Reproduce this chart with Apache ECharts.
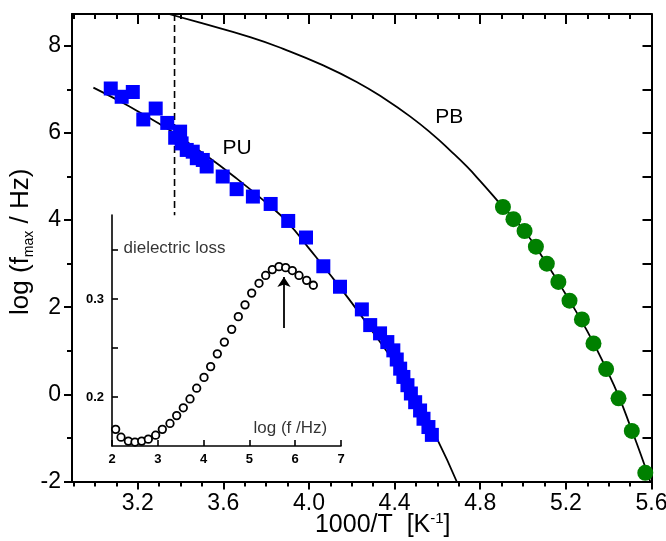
<!DOCTYPE html>
<html>
<head>
<meta charset="utf-8">
<script src="https://cdn.jsdelivr.net/npm/echarts@6/dist/echarts.min.js"></script>
<style>
html,body{margin:0;padding:0;background:#fff;}
#chart{width:666px;height:541px;}
</style>
</head>
<body>
<div id="chart"></div>
<script>
// ---------- data ----------
const puX = [3.074, 3.125, 3.177, 3.226, 3.284, 3.338, 3.375, 3.398, 3.405, 3.429, 3.457, 3.476, 3.504, 3.522, 3.597, 3.662, 3.738, 3.821, 3.903, 3.986, 4.067, 4.145, 4.247, 4.286, 4.332, 4.366, 4.394, 4.410, 4.426, 4.441, 4.460, 4.476, 4.496, 4.519, 4.535, 4.558, 4.574];
const puY = [7.02, 6.83, 6.94, 6.31, 6.56, 6.23, 5.89, 6.03, 5.76, 5.61, 5.57, 5.42, 5.38, 5.23, 5.00, 4.71, 4.54, 4.37, 3.98, 3.60, 2.94, 2.47, 1.95, 1.59, 1.40, 1.20, 1.01, 0.80, 0.59, 0.40, 0.21, 0.02, -0.18, -0.37, -0.56, -0.75, -0.93];

const pbX = [4.906, 4.955, 5.007, 5.060, 5.111, 5.165, 5.217, 5.275, 5.329, 5.388, 5.446, 5.508, 5.571];
const pbY = [4.30, 4.02, 3.75, 3.39, 3.00, 2.58, 2.15, 1.72, 1.17, 0.58, -0.09, -0.84, -1.80];

// fit curves
const puFitX = [2.993, 3.10, 3.20, 3.35, 3.50, 3.65, 3.80, 3.90, 4.00, 4.10, 4.20, 4.30, 4.40, 4.50, 4.60, 4.69];
const puFitY = [7.04, 6.77, 6.50, 6.06, 5.55, 5.00, 4.40, 3.95, 3.35, 2.74, 2.10, 1.42, 0.72, -0.12, -1.04, -2.0];
const pbFitX = [3.345, 3.491, 3.725, 3.880, 4.067, 4.223, 4.348, 4.472, 4.581, 4.659, 4.737, 4.799, 4.878, 5.000, 5.100, 5.200, 5.300, 5.400, 5.450, 5.500, 5.550, 5.594];
const pbFitY = [8.73, 8.53, 8.20, 7.93, 7.55, 7.17, 6.80, 6.38, 5.95, 5.60, 5.23, 4.90, 4.46, 3.79, 3.08, 2.29, 1.45, 0.47, -0.08, -0.72, -1.38, -2.0];

// dashed marker line
const dashX = [3.372, 3.372];
const dashY = [8.73, 4.11];

// inset: dielectric loss vs log f
const insetLogF = [2.080, 2.197, 2.357, 2.502, 2.648, 2.793, 2.953, 3.099, 3.266, 3.412, 3.557, 3.703, 3.849, 4.009, 4.154, 4.300, 4.453, 4.613, 4.758, 4.904, 5.050, 5.210, 5.355, 5.501, 5.646, 5.792, 5.937, 6.083, 6.250, 6.396];
const insetLoss = [0.167, 0.159, 0.155, 0.154, 0.155, 0.157, 0.161, 0.167, 0.173, 0.181, 0.189, 0.198, 0.209, 0.220, 0.231, 0.244, 0.256, 0.269, 0.282, 0.294, 0.306, 0.316, 0.324, 0.330, 0.333, 0.332, 0.329, 0.324, 0.319, 0.314];
const arrowLogF = 5.755;
const arrowLoss = [0.2704, 0.3224];

// axes / ticks
const xRange = [2.893, 5.6];
const yRange = [-2, 8.73];
const xMajor = [3.2, 3.6, 4.0, 4.4, 4.8, 5.2, 5.6];
const xTickLabels = ['3.2', '3.6', '4.0', '4.4', '4.8', '5.2', '5.6'];
const xMinor = [2.9, 3.0, 3.1, 3.3, 3.4, 3.5, 3.7, 3.8, 3.9, 4.1, 4.2, 4.3, 4.5, 4.6, 4.7, 4.9, 5.0, 5.1, 5.3, 5.4, 5.5];
const yMajor = [-2, 0, 2, 4, 6, 8];
const yTickLabels = ['-2', '0', '2', '4', '6', '8'];
const yMinor = [-1, 1, 3, 5, 7];
const yRight = [-2, -1, 0, 1, 2, 3, 4, 5, 6, 7, 8];

const insetXRange = [2, 7];
const insetYRange = [0.15, 0.3857];
const insetXTicks = [2, 3, 4, 5, 6, 7];
const insetXLabels = ['2', '3', '4', '5', '6', '7'];
const insetYTicks = [0.2, 0.25, 0.3, 0.35];
const insetYLabelVals = [0.2, 0.3];
const insetYLabels = ['0.2', '0.3'];

const puLabel = {text: 'PU', at: [3.664, 5.65]};
const pbLabel = {text: 'PB', at: [4.655, 6.37]};
const insetTitle = {text: 'dielectric loss', at: [2.25, 0.352]};
const insetXName = {text: 'log (f /Hz)', at: [5.09, 0.1685]};

// ---------- chart ----------
const FONT = '"Liberation Sans", Arial, Helvetica, sans-serif';
const zip = (a, b) => a.map((v, i) => [v, b[i]]);
const lookup = (vals, labels) => v => {
  for (let i = 0; i < vals.length; i++) if (Math.abs(vals[i] - v) < 1e-6) return labels[i];
  return '';
};

const chart = echarts.init(document.getElementById('chart'), null, {renderer: 'canvas'});

const axisLine = w => ({show: true, onZero: false, lineStyle: {color: '#000', width: w}});
const noLine = {show: false, onZero: false};

const option = {
  animation: false,
  backgroundColor: '#fff',
  grid: [
    {left: 72, right: 14.5, top: 14, bottom: 59.5, containLabel: false, outerBoundsMode: 'none'},
    {left: 112, right: 325, top: 215, bottom: 95, containLabel: false, outerBoundsMode: 'none'}
  ],
  xAxis: [
    { // 0 main bottom major
      type: 'value', gridIndex: 0, position: 'bottom', min: xRange[0], max: xRange[1],
      axisLine: axisLine(2),
      axisTick: {show: true, inside: false, length: 8, customValues: xMajor, lineStyle: {color: '#000', width: 2}},
      axisLabel: {show: true, customValues: xMajor, formatter: lookup(xMajor, xTickLabels), margin: 11,
        fontSize: 23, color: '#000', fontFamily: FONT},
      splitLine: {show: false},
      name: '{a|1000/T  [K}{s|-1}{a|]}', nameLocation: 'middle', nameGap: 30, nameMoveOverlap: false,
      nameTextStyle: {fontFamily: FONT, color: '#000', padding: [0, 0, 0, 42],
        rich: {a: {fontSize: 25, fontFamily: FONT, color: '#000', lineHeight: 28},
               s: {fontSize: 15, fontFamily: FONT, color: '#000', verticalAlign: 'top', lineHeight: 28}}}
    },
    { // 1 main bottom minor
      type: 'value', gridIndex: 0, position: 'bottom', min: xRange[0], max: xRange[1],
      axisLine: noLine,
      axisTick: {show: true, inside: false, length: 5, customValues: xMinor, lineStyle: {color: '#000', width: 2}},
      axisLabel: {show: false}, splitLine: {show: false}
    },
    { // 2 main top major
      type: 'value', gridIndex: 0, position: 'top', min: xRange[0], max: xRange[1],
      axisLine: axisLine(2),
      axisTick: {show: true, inside: true, length: 10, customValues: xMajor, lineStyle: {color: '#000', width: 2}},
      axisLabel: {show: false}, splitLine: {show: false}
    },
    { // 3 main top minor
      type: 'value', gridIndex: 0, position: 'top', min: xRange[0], max: xRange[1],
      axisLine: noLine,
      axisTick: {show: true, inside: true, length: 5, customValues: xMinor, lineStyle: {color: '#000', width: 2}},
      axisLabel: {show: false}, splitLine: {show: false}
    },
    { // 4 inset x
      type: 'value', gridIndex: 1, position: 'bottom', min: insetXRange[0], max: insetXRange[1],
      axisLine: axisLine(1.6),
      axisTick: {show: true, inside: true, length: 6, customValues: insetXTicks, lineStyle: {color: '#000', width: 1.6}},
      axisLabel: {show: true, customValues: insetXTicks, formatter: lookup(insetXTicks, insetXLabels), margin: 7,
        fontSize: 13, fontWeight: 'bold', color: '#000', fontFamily: FONT},
      splitLine: {show: false}
    }
  ],
  yAxis: [
    { // 0 main left major
      type: 'value', gridIndex: 0, position: 'left', min: yRange[0], max: yRange[1],
      axisLine: axisLine(2),
      axisTick: {show: true, inside: false, length: 8, customValues: yMajor, lineStyle: {color: '#000', width: 2}},
      axisLabel: {show: true, customValues: yMajor, formatter: lookup(yMajor, yTickLabels), margin: 11,
        fontSize: 23, color: '#000', fontFamily: FONT},
      splitLine: {show: false},
      name: '{a|log (f}{s|max}{a| / Hz)}', nameLocation: 'middle', nameGap: 36, nameRotate: 90, nameMoveOverlap: false,
      nameTextStyle: {fontFamily: FONT, color: '#000', padding: [0, 0, 0, 12],
        rich: {a: {fontSize: 26, fontFamily: FONT, color: '#000', lineHeight: 30},
               s: {fontSize: 14, fontFamily: FONT, color: '#000', verticalAlign: 'bottom', lineHeight: 30}}}
    },
    { // 1 main left minor
      type: 'value', gridIndex: 0, position: 'left', min: yRange[0], max: yRange[1],
      axisLine: noLine,
      axisTick: {show: true, inside: false, length: 5, customValues: yMinor, lineStyle: {color: '#000', width: 2}},
      axisLabel: {show: false}, splitLine: {show: false}
    },
    { // 2 main right
      type: 'value', gridIndex: 0, position: 'right', min: yRange[0], max: yRange[1],
      axisLine: axisLine(2),
      axisTick: {show: true, inside: true, length: 9, customValues: yRight, lineStyle: {color: '#000', width: 2}},
      axisLabel: {show: false}, splitLine: {show: false}
    },
    { // 3 inset y
      type: 'value', gridIndex: 1, position: 'left', min: insetYRange[0], max: insetYRange[1],
      axisLine: axisLine(1.6),
      axisTick: {show: true, inside: true, length: 6, customValues: insetYTicks, lineStyle: {color: '#000', width: 1.6}},
      axisLabel: {show: true, customValues: insetYLabelVals, formatter: lookup(insetYLabelVals, insetYLabels), margin: 8,
        fontSize: 13, fontWeight: 'bold', color: '#000', fontFamily: FONT},
      splitLine: {show: false}
    }
  ],
  series: [
    {
      name: 'PU fit', type: 'line', xAxisIndex: 0, yAxisIndex: 0, data: zip(puFitX, puFitY),
      smooth: 0.5, showSymbol: false, symbol: 'none', z: 2,
      lineStyle: {color: '#000', width: 1.8}
    },
    {
      name: 'PB fit', type: 'line', xAxisIndex: 0, yAxisIndex: 0, data: zip(pbFitX, pbFitY),
      smooth: 0.5, showSymbol: false, symbol: 'none', z: 2,
      lineStyle: {color: '#000', width: 1.8}
    },
    {
      name: 'marker', type: 'line', xAxisIndex: 0, yAxisIndex: 0, data: zip(dashX, dashY),
      showSymbol: false, symbol: 'none', z: 2,
      lineStyle: {color: '#000', width: 1.6, type: [7, 4]}
    },
    {
      name: 'PU', type: 'scatter', xAxisIndex: 0, yAxisIndex: 0, data: zip(puX, puY),
      symbol: 'rect', symbolSize: 14, z: 3,
      itemStyle: {color: '#0000FF', opacity: 1},
      markPoint: {
        symbol: 'circle', symbolSize: 0, silent: true,
        label: {show: true, position: 'inside', fontSize: 21, color: '#000', fontFamily: FONT, formatter: p => p.name},
        data: [{name: puLabel.text, coord: puLabel.at}]
      }
    },
    {
      name: 'PB', type: 'scatter', xAxisIndex: 0, yAxisIndex: 0, data: zip(pbX, pbY),
      symbol: 'circle', symbolSize: 16, z: 3,
      itemStyle: {color: '#008000', opacity: 1},
      markPoint: {
        symbol: 'circle', symbolSize: 0, silent: true,
        label: {show: true, position: 'inside', fontSize: 21, color: '#000', fontFamily: FONT, formatter: p => p.name},
        data: [{name: pbLabel.text, coord: pbLabel.at}]
      }
    },
    {
      name: 'loss', type: 'scatter', xAxisIndex: 4, yAxisIndex: 3, data: zip(insetLogF, insetLoss),
      symbol: 'circle', symbolSize: 7.5, z: 3,
      itemStyle: {color: '#fff', borderColor: '#000', borderWidth: 1.8, opacity: 1},
      markLine: {
        silent: true, symbol: ['none', 'arrow'], symbolSize: 10,
        lineStyle: {color: '#000', width: 1.8, type: 'solid'},
        label: {show: false},
        data: [[{coord: [arrowLogF, arrowLoss[0]]}, {coord: [arrowLogF, arrowLoss[1]]}]]
      }
    },
    {
      name: 'insetText', type: 'scatter', xAxisIndex: 4, yAxisIndex: 3, symbolSize: 0, silent: true,
      data: [
        {value: insetTitle.at, name: insetTitle.text},
        {value: insetXName.at, name: insetXName.text}
      ],
      label: {show: true, position: 'right', distance: 0, formatter: p => p.name, fontSize: 17, color: '#000', fontFamily: FONT}
    }
  ]
};

chart.setOption(option);
</script>
</body>
</html>
